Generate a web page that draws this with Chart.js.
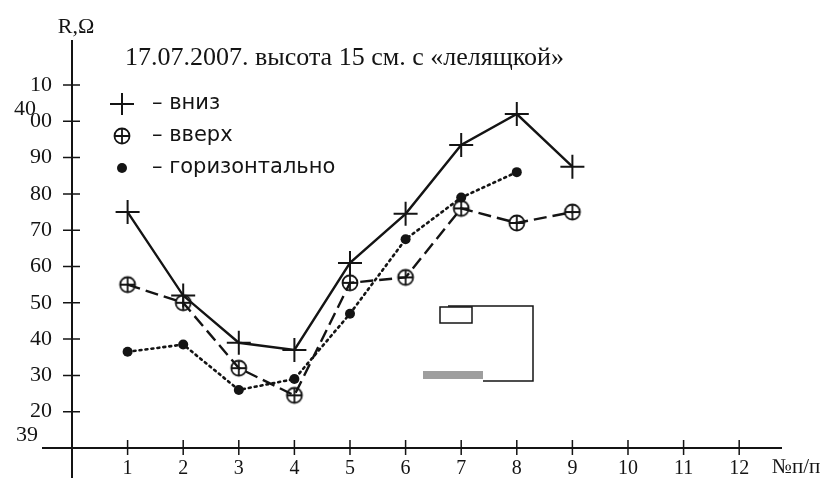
<!DOCTYPE html>
<html>
<head>
<meta charset="utf-8">
<script src="https://cdn.jsdelivr.net/npm/chart.js@4.4.1/dist/chart.umd.min.js"></script>
<style>
    html, body { margin: 0; padding: 0; background: #fff; }
    #wrap { width: 827px; height: 484px; }
</style>
</head>
<body>
<div id="wrap"><canvas id="resChart" width="827" height="484"></canvas></div>
<script>
// Data
var categories   = [1, 2, 3, 4, 5, 6, 7, 8, 9];
var seriesNames  = ["вниз", "вверх", "горизонтально"];
var downValues   = [3975, 3952, 3939, 3937, 3961, 3974.5, 3993.5, 4002, 3987.5];
var upValues     = [3955, 3950, 3932, 3924.5, 3955.5, 3957, 3976, 3972, 3975];
var horizValues  = [3936.5, 3938.5, 3926, 3929, 3947, 3967.5, 3979, 3986];
var xTickLabels  = ["1", "2", "3", "4", "5", "6", "7", "8", "9", "10", "11", "12"];
var yTickValues  = [3920, 3930, 3940, 3950, 3960, 3970, 3980, 3990, 4000, 4010];
var chartTitle   = "17.07.2007. высота 15 см. с «лелящкой»";
var yAxisTitle   = "R,Ω";
var xAxisTitle   = "№п/п";

var INK = "#141414";
var SERIF = "'Liberation Serif', 'DejaVu Serif', serif";
var SANS = "'DejaVu Sans', sans-serif";

function toPoints(values)
{
    return values.map(function (v, i) { return {x: categories[i], y: v}; });
}

// circled plus marker
function makeCircledPlus()
{
    var c = document.createElement("canvas");
    c.width = 20;
    c.height = 20;
    var g = c.getContext("2d");
    g.strokeStyle = INK;
    g.lineWidth = 1.8;
    g.beginPath();
    g.arc(10, 10, 7.5, 0, Math.PI * 2);
    g.stroke();
    g.beginPath();
    g.moveTo(10, 3); g.lineTo(10, 17);
    g.moveTo(3, 10); g.lineTo(17, 10);
    g.stroke();
    return c;
}
var circledPlus = makeCircledPlus();

var decorPlugin = {
    id: "decor",
    afterDraw: function (chart)
    {
        var ctx = chart.ctx;
        var area = chart.chartArea;
        var xs = chart.scales.x;
        var ys = chart.scales.y;
        ctx.save();
        ctx.strokeStyle = INK;
        ctx.fillStyle = INK;

        // axes, extended past the origin like on the scan
        ctx.lineWidth = 2;
        ctx.beginPath();
        ctx.moveTo(area.left, area.top);
        ctx.lineTo(area.left, area.bottom + 30);
        ctx.moveTo(area.left - 30, area.bottom);
        ctx.lineTo(area.right, area.bottom);
        ctx.stroke();

        // tick marks crossing the axes
        ctx.lineWidth = 1.5;
        ctx.beginPath();
        yTickValues.forEach(function (v)
        {
            var py = ys.getPixelForValue(v);
            ctx.moveTo(area.left - 9, py);
            ctx.lineTo(area.left + 8, py);
        });
        xTickLabels.forEach(function (l, i)
        {
            var px = xs.getPixelForValue(i + 1);
            ctx.moveTo(px, area.bottom - 8);
            ctx.lineTo(px, area.bottom + 7);
        });
        ctx.stroke();

        // hundreds prefixes
        ctx.font = "22px " + SERIF;
        ctx.textAlign = "right";
        ctx.textBaseline = "middle";
        ctx.fillText("40", 36, ys.getPixelForValue(4000) - 12);
        ctx.fillText("39", 38, area.bottom - 13);

        // axis titles
        ctx.font = "22px " + SERIF;
        ctx.textAlign = "center";
        ctx.fillText(yAxisTitle, 76, 27);
        ctx.textAlign = "left";
        ctx.font = "21px " + SERIF;
        ctx.fillText(xAxisTitle, 772, 467);

        // title
        ctx.font = "26px " + SERIF;
        ctx.fillText(chartTitle, 125, 58);

        // legend
        var legendY = [104, 136, 168];
        ctx.font = "21px " + SANS;
        chart.data.datasets.forEach(function (ds, i)
        {
            var cx = 122, cy = legendY[i];
            if (ds.pointStyle === "cross")
            {
                ctx.lineWidth = 2;
                ctx.beginPath();
                ctx.moveTo(cx - 12, cy); ctx.lineTo(cx + 12, cy);
                ctx.moveTo(cx, cy - 11); ctx.lineTo(cx, cy + 11);
                ctx.stroke();
            }
            else if (ds.pointStyle === "circle")
            {
                ctx.beginPath();
                ctx.arc(cx, cy, 5, 0, Math.PI * 2);
                ctx.fill();
            }
            else
            {
                ctx.drawImage(ds.pointStyle, cx - 10, cy - 10);
            }
            ctx.fillText("– " + ds.label, 152, cy);
        });

        // scan debris in the middle
        ctx.lineWidth = 1.5;
        ctx.strokeRect(440, 307, 32, 16);
        ctx.beginPath();
        ctx.moveTo(448, 306); ctx.lineTo(533, 306); ctx.lineTo(533, 381); ctx.lineTo(483, 381);
        ctx.stroke();
        ctx.fillStyle = "rgba(40,40,40,0.45)";
        ctx.fillRect(423, 371, 60, 8);
        ctx.restore();
    }
};

new Chart(document.getElementById("resChart"), {
    type:    "line",
    data:    {
        datasets: [
            {
                label:            seriesNames[0],
                data:             toPoints(downValues),
                borderColor:      INK,
                borderWidth:      2.4,
                pointStyle:       "cross",
                pointRadius:      12,
                pointBorderWidth: 2,
                pointBorderColor: INK,
                tension:          0
            },
            {
                label:            seriesNames[1],
                data:             toPoints(upValues),
                borderColor:      INK,
                borderWidth:      2.4,
                borderDash:       [13, 6],
                pointStyle:       circledPlus,
                pointRadius:      8,
                tension:          0
            },
            {
                label:            seriesNames[2],
                data:             toPoints(horizValues),
                borderColor:      INK,
                borderWidth:      2.6,
                borderDash:       [2, 4],
                borderCapStyle:   "round",
                pointStyle:       "circle",
                pointRadius:      5,
                pointBackgroundColor: INK,
                pointBorderColor: INK,
                pointBorderWidth: 0,
                tension:          0
            }
        ]
    },
    options: {
        responsive: false,
        animation:  false,
        layout:     {
            padding: {top: 40, left: 0, right: 45, bottom: 0}
        },
        plugins:    {
            legend:  {display: false},
            tooltip: {enabled: false}
        },
        scales:     {
            x: {
                type:   "linear",
                min:    0,
                max:    12.77,
                grid:   {display: false},
                border: {display: false},
                afterBuildTicks: function (scale)
                {
                    scale.ticks = xTickLabels.map(function (l, i) { return {value: i + 1}; });
                },
                ticks:  {
                    autoSkip:    false,
                    maxRotation: 0,
                    padding:     1,
                    color:       INK,
                    font:        {family: SERIF, size: 20},
                    callback:    function (v)
                    {
                        return xTickLabels[v - 1];
                    }
                },
                afterFit: function (scale) { scale.height = 36; }
            },
            y: {
                min:    3910,
                max:    4022.4,
                grid:   {display: false},
                border: {display: false},
                afterBuildTicks: function (scale)
                {
                    scale.ticks = yTickValues.map(function (v) { return {value: v}; });
                },
                ticks:  {
                    autoSkip: false,
                    padding:  12,
                    color:    INK,
                    font:     {family: SERIF, size: 22},
                    callback: function (v)
                    {
                        return String(v % 100).padStart(2, "0");
                    }
                },
                afterFit: function (scale) { scale.width = 72; }
            }
        }
    },
    plugins: [decorPlugin]
});
</script>
</body>
</html>
